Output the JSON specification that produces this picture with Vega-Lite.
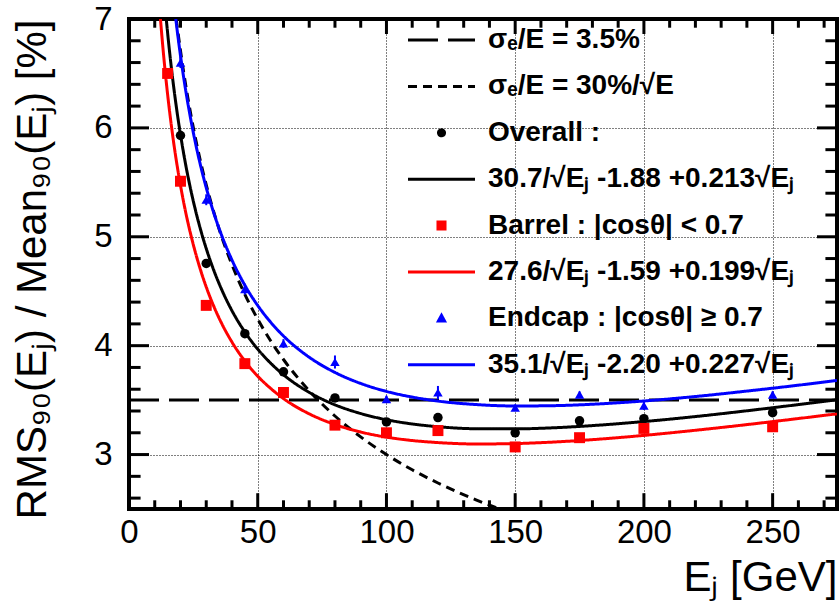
{
  "$schema": "https://vega.github.io/schema/vega-lite/v6.json",
  "width": 708,
  "height": 490,
  "autosize": {"type": "none"},
  "padding": {"left": 129, "top": 19, "right": 3, "bottom": 97},
  "background": "white",
  "config": {"view": {"stroke": "black", "strokeWidth": 4}, "font": "Liberation Sans"},
  "datasets": {
    "curves": [
      {"s": "c35", "E": 0, "v": 3.5}, {"s": "c35", "E": 275, "v": 3.5},
      {"s": "c30", "E": 17, "v": 7.276}, {"s": "c30", "E": 18, "v": 7.071}, {"s": "c30", "E": 19, "v": 6.882}, {"s": "c30", "E": 20, "v": 6.708},
      {"s": "c30", "E": 22, "v": 6.396}, {"s": "c30", "E": 24, "v": 6.124}, {"s": "c30", "E": 26, "v": 5.883}, {"s": "c30", "E": 28, "v": 5.669},
      {"s": "c30", "E": 30, "v": 5.477}, {"s": "c30", "E": 33, "v": 5.222}, {"s": "c30", "E": 36, "v": 5.0}, {"s": "c30", "E": 40, "v": 4.743},
      {"s": "c30", "E": 45, "v": 4.472}, {"s": "c30", "E": 50, "v": 4.243}, {"s": "c30", "E": 55, "v": 4.045}, {"s": "c30", "E": 60, "v": 3.873},
      {"s": "c30", "E": 70, "v": 3.586}, {"s": "c30", "E": 80, "v": 3.354}, {"s": "c30", "E": 90, "v": 3.162}, {"s": "c30", "E": 100, "v": 3.0},
      {"s": "c30", "E": 110, "v": 2.86}, {"s": "c30", "E": 120, "v": 2.739}, {"s": "c30", "E": 135, "v": 2.582}, {"s": "c30", "E": 144, "v": 2.5},
      {"s": "c30", "E": 150, "v": 2.449},
      {"s": "overallFit", "E": 13, "v": 7.403}, {"s": "overallFit", "E": 14, "v": 7.122}, {"s": "overallFit", "E": 15, "v": 6.872}, {"s": "overallFit", "E": 16, "v": 6.647},
      {"s": "overallFit", "E": 17, "v": 6.444}, {"s": "overallFit", "E": 18, "v": 6.26}, {"s": "overallFit", "E": 19, "v": 6.091}, {"s": "overallFit", "E": 20, "v": 5.938},
      {"s": "overallFit", "E": 22, "v": 5.664}, {"s": "overallFit", "E": 24, "v": 5.43}, {"s": "overallFit", "E": 26, "v": 5.227}, {"s": "overallFit", "E": 28, "v": 5.049},
      {"s": "overallFit", "E": 30, "v": 4.892}, {"s": "overallFit", "E": 33, "v": 4.688}, {"s": "overallFit", "E": 36, "v": 4.515}, {"s": "overallFit", "E": 40, "v": 4.321},
      {"s": "overallFit", "E": 45, "v": 4.126}, {"s": "overallFit", "E": 50, "v": 3.968}, {"s": "overallFit", "E": 55, "v": 3.84}, {"s": "overallFit", "E": 60, "v": 3.733},
      {"s": "overallFit", "E": 70, "v": 3.571}, {"s": "overallFit", "E": 80, "v": 3.457}, {"s": "overallFit", "E": 90, "v": 3.377}, {"s": "overallFit", "E": 100, "v": 3.32},
      {"s": "overallFit", "E": 110, "v": 3.281}, {"s": "overallFit", "E": 120, "v": 3.256}, {"s": "overallFit", "E": 135, "v": 3.237}, {"s": "overallFit", "E": 150, "v": 3.236},
      {"s": "overallFit", "E": 165, "v": 3.246}, {"s": "overallFit", "E": 180, "v": 3.266}, {"s": "overallFit", "E": 200, "v": 3.303}, {"s": "overallFit", "E": 220, "v": 3.349},
      {"s": "overallFit", "E": 240, "v": 3.402}, {"s": "overallFit", "E": 260, "v": 3.459}, {"s": "overallFit", "E": 275, "v": 3.503},
      {"s": "barrelFit", "E": 11, "v": 7.392}, {"s": "barrelFit", "E": 12, "v": 7.066}, {"s": "barrelFit", "E": 13, "v": 6.782}, {"s": "barrelFit", "E": 14, "v": 6.531},
      {"s": "barrelFit", "E": 15, "v": 6.307}, {"s": "barrelFit", "E": 16, "v": 6.106}, {"s": "barrelFit", "E": 17, "v": 5.924}, {"s": "barrelFit", "E": 18, "v": 5.759},
      {"s": "barrelFit", "E": 19, "v": 5.609}, {"s": "barrelFit", "E": 20, "v": 5.472}, {"s": "barrelFit", "E": 22, "v": 5.227}, {"s": "barrelFit", "E": 24, "v": 5.019},
      {"s": "barrelFit", "E": 26, "v": 4.838}, {"s": "barrelFit", "E": 28, "v": 4.679}, {"s": "barrelFit", "E": 30, "v": 4.539}, {"s": "barrelFit", "E": 33, "v": 4.358},
      {"s": "barrelFit", "E": 36, "v": 4.204}, {"s": "barrelFit", "E": 40, "v": 4.033}, {"s": "barrelFit", "E": 45, "v": 3.859}, {"s": "barrelFit", "E": 50, "v": 3.72},
      {"s": "barrelFit", "E": 55, "v": 3.608}, {"s": "barrelFit", "E": 60, "v": 3.514}, {"s": "barrelFit", "E": 70, "v": 3.374}, {"s": "barrelFit", "E": 80, "v": 3.276},
      {"s": "barrelFit", "E": 90, "v": 3.207}, {"s": "barrelFit", "E": 100, "v": 3.16}, {"s": "barrelFit", "E": 110, "v": 3.129}, {"s": "barrelFit", "E": 120, "v": 3.11},
      {"s": "barrelFit", "E": 135, "v": 3.097}, {"s": "barrelFit", "E": 150, "v": 3.101}, {"s": "barrelFit", "E": 165, "v": 3.115}, {"s": "barrelFit", "E": 180, "v": 3.137},
      {"s": "barrelFit", "E": 200, "v": 3.176}, {"s": "barrelFit", "E": 220, "v": 3.223}, {"s": "barrelFit", "E": 240, "v": 3.275}, {"s": "barrelFit", "E": 260, "v": 3.331},
      {"s": "barrelFit", "E": 275, "v": 3.374},
      {"s": "endcapFit", "E": 17, "v": 7.249}, {"s": "endcapFit", "E": 18, "v": 7.036}, {"s": "endcapFit", "E": 19, "v": 6.842}, {"s": "endcapFit", "E": 20, "v": 6.664},
      {"s": "endcapFit", "E": 22, "v": 6.348}, {"s": "endcapFit", "E": 24, "v": 6.077}, {"s": "endcapFit", "E": 26, "v": 5.841}, {"s": "endcapFit", "E": 28, "v": 5.634},
      {"s": "endcapFit", "E": 30, "v": 5.451}, {"s": "endcapFit", "E": 33, "v": 5.214}, {"s": "endcapFit", "E": 36, "v": 5.012}, {"s": "endcapFit", "E": 40, "v": 4.786},
      {"s": "endcapFit", "E": 45, "v": 4.555}, {"s": "endcapFit", "E": 50, "v": 4.369}, {"s": "endcapFit", "E": 55, "v": 4.216}, {"s": "endcapFit", "E": 60, "v": 4.089},
      {"s": "endcapFit", "E": 70, "v": 3.894}, {"s": "endcapFit", "E": 80, "v": 3.754}, {"s": "endcapFit", "E": 90, "v": 3.653}, {"s": "endcapFit", "E": 100, "v": 3.58},
      {"s": "endcapFit", "E": 110, "v": 3.528}, {"s": "endcapFit", "E": 120, "v": 3.491}, {"s": "endcapFit", "E": 135, "v": 3.459}, {"s": "endcapFit", "E": 150, "v": 3.446},
      {"s": "endcapFit", "E": 165, "v": 3.449}, {"s": "endcapFit", "E": 180, "v": 3.462}, {"s": "endcapFit", "E": 200, "v": 3.492}, {"s": "endcapFit", "E": 220, "v": 3.533},
      {"s": "endcapFit", "E": 240, "v": 3.583}, {"s": "endcapFit", "E": 260, "v": 3.637}, {"s": "endcapFit", "E": 275, "v": 3.681}
    ],
    "pts": [
      {"s": "overall", "E": 20, "v": 5.93}, {"s": "overall", "E": 30, "v": 4.755}, {"s": "overall", "E": 45, "v": 4.11}, {"s": "overall", "E": 60, "v": 3.76},
      {"s": "overall", "E": 80, "v": 3.52}, {"s": "overall", "E": 100, "v": 3.3}, {"s": "overall", "E": 120, "v": 3.34}, {"s": "overall", "E": 150, "v": 3.2},
      {"s": "overall", "E": 175, "v": 3.31}, {"s": "overall", "E": 200, "v": 3.33}, {"s": "overall", "E": 250, "v": 3.385},
      {"s": "barrel", "E": 15, "v": 6.5}, {"s": "barrel", "E": 20, "v": 5.51}, {"s": "barrel", "E": 30, "v": 4.37}, {"s": "barrel", "E": 45, "v": 3.835},
      {"s": "barrel", "E": 60, "v": 3.57}, {"s": "barrel", "E": 80, "v": 3.27}, {"s": "barrel", "E": 100, "v": 3.2}, {"s": "barrel", "E": 120, "v": 3.22},
      {"s": "barrel", "E": 150, "v": 3.07}, {"s": "barrel", "E": 175, "v": 3.155}, {"s": "barrel", "E": 200, "v": 3.24}, {"s": "barrel", "E": 250, "v": 3.255},
      {"s": "endcap", "E": 20, "v": 6.6}, {"s": "endcap", "E": 30, "v": 5.34}, {"s": "endcap", "E": 45, "v": 4.52}, {"s": "endcap", "E": 60, "v": 4.02},
      {"s": "endcap", "E": 80, "v": 3.85}, {"s": "endcap", "E": 100, "v": 3.51}, {"s": "endcap", "E": 120, "v": 3.57}, {"s": "endcap", "E": 150, "v": 3.43},
      {"s": "endcap", "E": 175, "v": 3.55}, {"s": "endcap", "E": 200, "v": 3.45}, {"s": "endcap", "E": 250, "v": 3.55}
    ],
    "errs": [
      {"E": 20, "lo": 6.55, "hi": 6.65}, {"E": 30, "lo": 5.29, "hi": 5.39}, {"E": 45, "lo": 4.47, "hi": 4.57}, {"E": 60, "lo": 3.98, "hi": 4.06},
      {"E": 80, "lo": 3.79, "hi": 3.91}, {"E": 100, "lo": 3.48, "hi": 3.54}, {"E": 120, "lo": 3.51, "hi": 3.63}, {"E": 150, "lo": 3.4, "hi": 3.46},
      {"E": 175, "lo": 3.52, "hi": 3.58}, {"E": 200, "lo": 3.41, "hi": 3.49}, {"E": 250, "lo": 3.52, "hi": 3.58}
    ],
    "xmaj": [{"t": 50}, {"t": 100}, {"t": 150}, {"t": 200}, {"t": 250}],
    "xmin": [{"t": 10}, {"t": 20}, {"t": 30}, {"t": 40}, {"t": 60}, {"t": 70}, {"t": 80}, {"t": 90}, {"t": 110}, {"t": 120}, {"t": 130}, {"t": 140},
             {"t": 160}, {"t": 170}, {"t": 180}, {"t": 190}, {"t": 210}, {"t": 220}, {"t": 230}, {"t": 240}, {"t": 260}, {"t": 270}],
    "ymaj": [{"t": 3}, {"t": 4}, {"t": 5}, {"t": 6}],
    "ymin": [{"t": 2.6}, {"t": 2.8}, {"t": 3.2}, {"t": 3.4}, {"t": 3.6}, {"t": 3.8}, {"t": 4.2}, {"t": 4.4}, {"t": 4.6}, {"t": 4.8},
             {"t": 5.2}, {"t": 5.4}, {"t": 5.6}, {"t": 5.8}, {"t": 6.2}, {"t": 6.4}, {"t": 6.6}, {"t": 6.8}]
  },
  "layer": [
    {
      "data": {"name": "pts"},
      "transform": [{"filter": "datum.s === 'endcap'"}],
      "mark": {"type": "point", "filled": true, "shape": "triangle-up", "size": 90, "color": "#0000ff", "opacity": 0, "strokeWidth": 0},
      "encoding": {
        "x": {
          "field": "E", "type": "quantitative", "scale": {"domain": [0, 275], "nice": false, "zero": false},
          "axis": {
            "orient": "bottom", "values": [50, 100, 150, 200, 250],
            "ticks": false, "labels": false, "domain": false, "title": null,
            "grid": true, "gridColor": "black", "gridDash": [1, 2], "gridWidth": 1, "gridOpacity": 1
          }
        },
        "y": {
          "field": "v", "type": "quantitative", "scale": {"domain": [2.5, 7], "nice": false, "zero": false},
          "axis": {
            "orient": "left", "values": [3, 4, 5, 6],
            "ticks": false, "labels": false, "domain": false, "title": null,
            "grid": true, "gridColor": "black", "gridDash": [1, 2], "gridWidth": 1, "gridOpacity": 1
          }
        }
      }
    },
    {
      "data": {"name": "curves"},
      "mark": {"type": "line", "clip": true, "strokeWidth": 3, "interpolate": "monotone"},
      "encoding": {
        "x": {
          "field": "E", "type": "quantitative",
          "scale": {"domain": [0, 275], "nice": false, "zero": false},
          "axis": {
            "orient": "bottom",
            "values": [0, 50, 100, 150, 200, 250], "format": "d",
            "ticks": false,
            "labelPadding": 7, "labelFontSize": 33, "labelFont": "Liberation Sans", "labelColor": "black",
            "labelFlush": false, "labelOverlap": false,
            "domain": false, "grid": false,
            "title": "Eⱼ [GeV]", "titleFont": "Liberation Sans", "titleFontSize": 42, "titleFontWeight": "normal", "titleColor": "black",
            "titleX": 708, "titleY": 81, "titleAlign": "right", "titleBaseline": "alphabetic", "titleAnchor": "end"
          }
        },
        "y": {
          "field": "v", "type": "quantitative",
          "scale": {"domain": [2.5, 7], "nice": false, "zero": false},
          "axis": {
            "orient": "left",
            "values": [3, 4, 5, 6, 7], "format": "d",
            "ticks": false,
            "labelPadding": 17, "labelFontSize": 33, "labelFont": "Liberation Sans", "labelColor": "black",
            "labelFlush": false, "labelOverlap": false,
            "domain": false, "grid": false,
            "title": "RMS₉₀(Eⱼ) / Mean₉₀(Eⱼ) [%]", "titleFont": "Liberation Sans", "titleFontSize": 42, "titleFontWeight": "normal", "titleColor": "black",
            "titleAngle": 270, "titleX": -84, "titleY": 0, "titleAlign": "right", "titleBaseline": "alphabetic"
          }
        },
        "color": {
          "field": "s", "type": "nominal",
          "scale": {
            "domain": ["c35", "c30", "overall", "overallFit", "barrel", "barrelFit", "endcap", "endcapFit"],
            "range": ["black", "black", "black", "black", "#ff0000", "#ff0000", "#0000ff", "#0000ff"]
          },
          "legend": {
            "title": null, "orient": "none", "legendX": 277.5, "legendY": 9, "direction": "vertical", "columns": 1,
            "padding": 0, "clipHeight": 24, "rowPadding": 18.4, "symbolSize": 4489, "symbolStrokeWidth": 3,
            "labelFont": "Liberation Sans", "labelFontSize": 28, "labelFontWeight": "bold", "labelColor": "black",
            "labelOffset": 11.5, "labelLimit": 700,
            "labelExpr": "datum.value === 'c35' ? 'σₑ/E = 3.5%' : datum.value === 'c30' ? 'σₑ/E = 30%/√E' : datum.value === 'overall' ? 'Overall :' : datum.value === 'overallFit' ? '30.7/√Eⱼ -1.88 +0.213√Eⱼ' : datum.value === 'barrel' ? 'Barrel : |cosθ| < 0.7' : datum.value === 'barrelFit' ? '27.6/√Eⱼ -1.59 +0.199√Eⱼ' : datum.value === 'endcap' ? 'Endcap : |cosθ| ≥ 0.7' : '35.1/√Eⱼ -2.20 +0.227√Eⱼ'",
            "encode": {
              "symbols": {
                "update": {
                  "shape": {"signal": "datum.value === 'overall' ? 'M-0.09,0A0.09,0.09,0,1,0,0.09,0A0.09,0.09,0,1,0,-0.09,0Z' : datum.value === 'barrel' ? 'M-0.105,-0.105H0.105V0.105H-0.105Z' : datum.value === 'endcap' ? 'M0,-0.09L0.09,0.075H-0.09Z' : 'M-1,0H1'"},
                  "fill": {"signal": "scale('color', datum.value)"},
                  "stroke": {"signal": "scale('color', datum.value)"},
                  "strokeDash": {"signal": "datum.value === 'c35' ? [33, 10] : datum.value === 'c30' ? [10, 6] : [1, 0]"},
                  "opacity": {"value": 1}
                }
              }
            }
          }
        },
        "strokeDash": {
          "field": "s", "type": "nominal",
          "scale": {
            "domain": ["c35", "c30", "overall", "overallFit", "barrel", "barrelFit", "endcap", "endcapFit"],
            "range": [[30, 10], [9, 6], [1, 0], [1, 0], [1, 0], [1, 0], [1, 0], [1, 0]]
          },
          "legend": null
        }
      }
    },
    {
      "data": {"name": "errs"},
      "mark": {"type": "rule", "color": "#0000ff", "strokeWidth": 2},
      "encoding": {
        "x": {"field": "E", "type": "quantitative", "axis": null},
        "y": {"field": "lo", "type": "quantitative", "axis": null},
        "y2": {"field": "hi"}
      }
    },
    {
      "data": {"name": "pts"},
      "transform": [{"filter": "datum.s === 'overall'"}],
      "mark": {"type": "point", "filled": true, "shape": "circle", "size": 90, "color": "black", "opacity": 1, "strokeWidth": 0},
      "encoding": {
        "x": {"field": "E", "type": "quantitative", "axis": null},
        "y": {"field": "v", "type": "quantitative", "axis": null}
      }
    },
    {
      "data": {"name": "pts"},
      "transform": [{"filter": "datum.s === 'barrel'"}],
      "mark": {"type": "point", "filled": true, "shape": "square", "size": 120, "color": "#ff0000", "opacity": 1, "strokeWidth": 0},
      "encoding": {
        "x": {"field": "E", "type": "quantitative", "axis": null},
        "y": {"field": "v", "type": "quantitative", "axis": null}
      }
    },
    {
      "data": {"name": "pts"},
      "transform": [{"filter": "datum.s === 'endcap'"}],
      "mark": {"type": "point", "filled": true, "shape": "triangle-up", "size": 90, "color": "#0000ff", "opacity": 1, "strokeWidth": 0},
      "encoding": {
        "x": {"field": "E", "type": "quantitative", "axis": null},
        "y": {"field": "v", "type": "quantitative", "axis": null}
      }
    },
    {
      "data": {"name": "xmaj"},
      "mark": {"type": "rule", "color": "black", "strokeWidth": 3},
      "encoding": {"x": {"field": "t", "type": "quantitative", "axis": null}, "y": {"datum": 2.5, "type": "quantitative", "axis": null}, "y2": {"datum": 2.645}}
    },
    {
      "data": {"name": "xmaj"},
      "mark": {"type": "rule", "color": "black", "strokeWidth": 3},
      "encoding": {"x": {"field": "t", "type": "quantitative", "axis": null}, "y": {"datum": 7, "type": "quantitative", "axis": null}, "y2": {"datum": 6.862}}
    },
    {
      "data": {"name": "xmin"},
      "mark": {"type": "rule", "color": "black", "strokeWidth": 3},
      "encoding": {"x": {"field": "t", "type": "quantitative", "axis": null}, "y": {"datum": 2.5, "type": "quantitative", "axis": null}, "y2": {"datum": 2.58}}
    },
    {
      "data": {"name": "xmin"},
      "mark": {"type": "rule", "color": "black", "strokeWidth": 3},
      "encoding": {"x": {"field": "t", "type": "quantitative", "axis": null}, "y": {"datum": 7, "type": "quantitative", "axis": null}, "y2": {"datum": 6.92}}
    },
    {
      "data": {"name": "ymaj"},
      "mark": {"type": "rule", "color": "black", "strokeWidth": 3},
      "encoding": {"y": {"field": "t", "type": "quantitative", "axis": null}, "x": {"datum": 0, "type": "quantitative", "axis": null}, "x2": {"datum": 7.77}}
    },
    {
      "data": {"name": "ymaj"},
      "mark": {"type": "rule", "color": "black", "strokeWidth": 3},
      "encoding": {"y": {"field": "t", "type": "quantitative", "axis": null}, "x": {"datum": 275, "type": "quantitative", "axis": null}, "x2": {"datum": 267.23}}
    },
    {
      "data": {"name": "ymin"},
      "mark": {"type": "rule", "color": "black", "strokeWidth": 3},
      "encoding": {"y": {"field": "t", "type": "quantitative", "axis": null}, "x": {"datum": 0, "type": "quantitative", "axis": null}, "x2": {"datum": 4.5}}
    },
    {
      "data": {"name": "ymin"},
      "mark": {"type": "rule", "color": "black", "strokeWidth": 3},
      "encoding": {"y": {"field": "t", "type": "quantitative", "axis": null}, "x": {"datum": 275, "type": "quantitative", "axis": null}, "x2": {"datum": 270.5}}
    }
  ],
  "resolve": {"axis": {"x": "independent", "y": "independent"}}
}
